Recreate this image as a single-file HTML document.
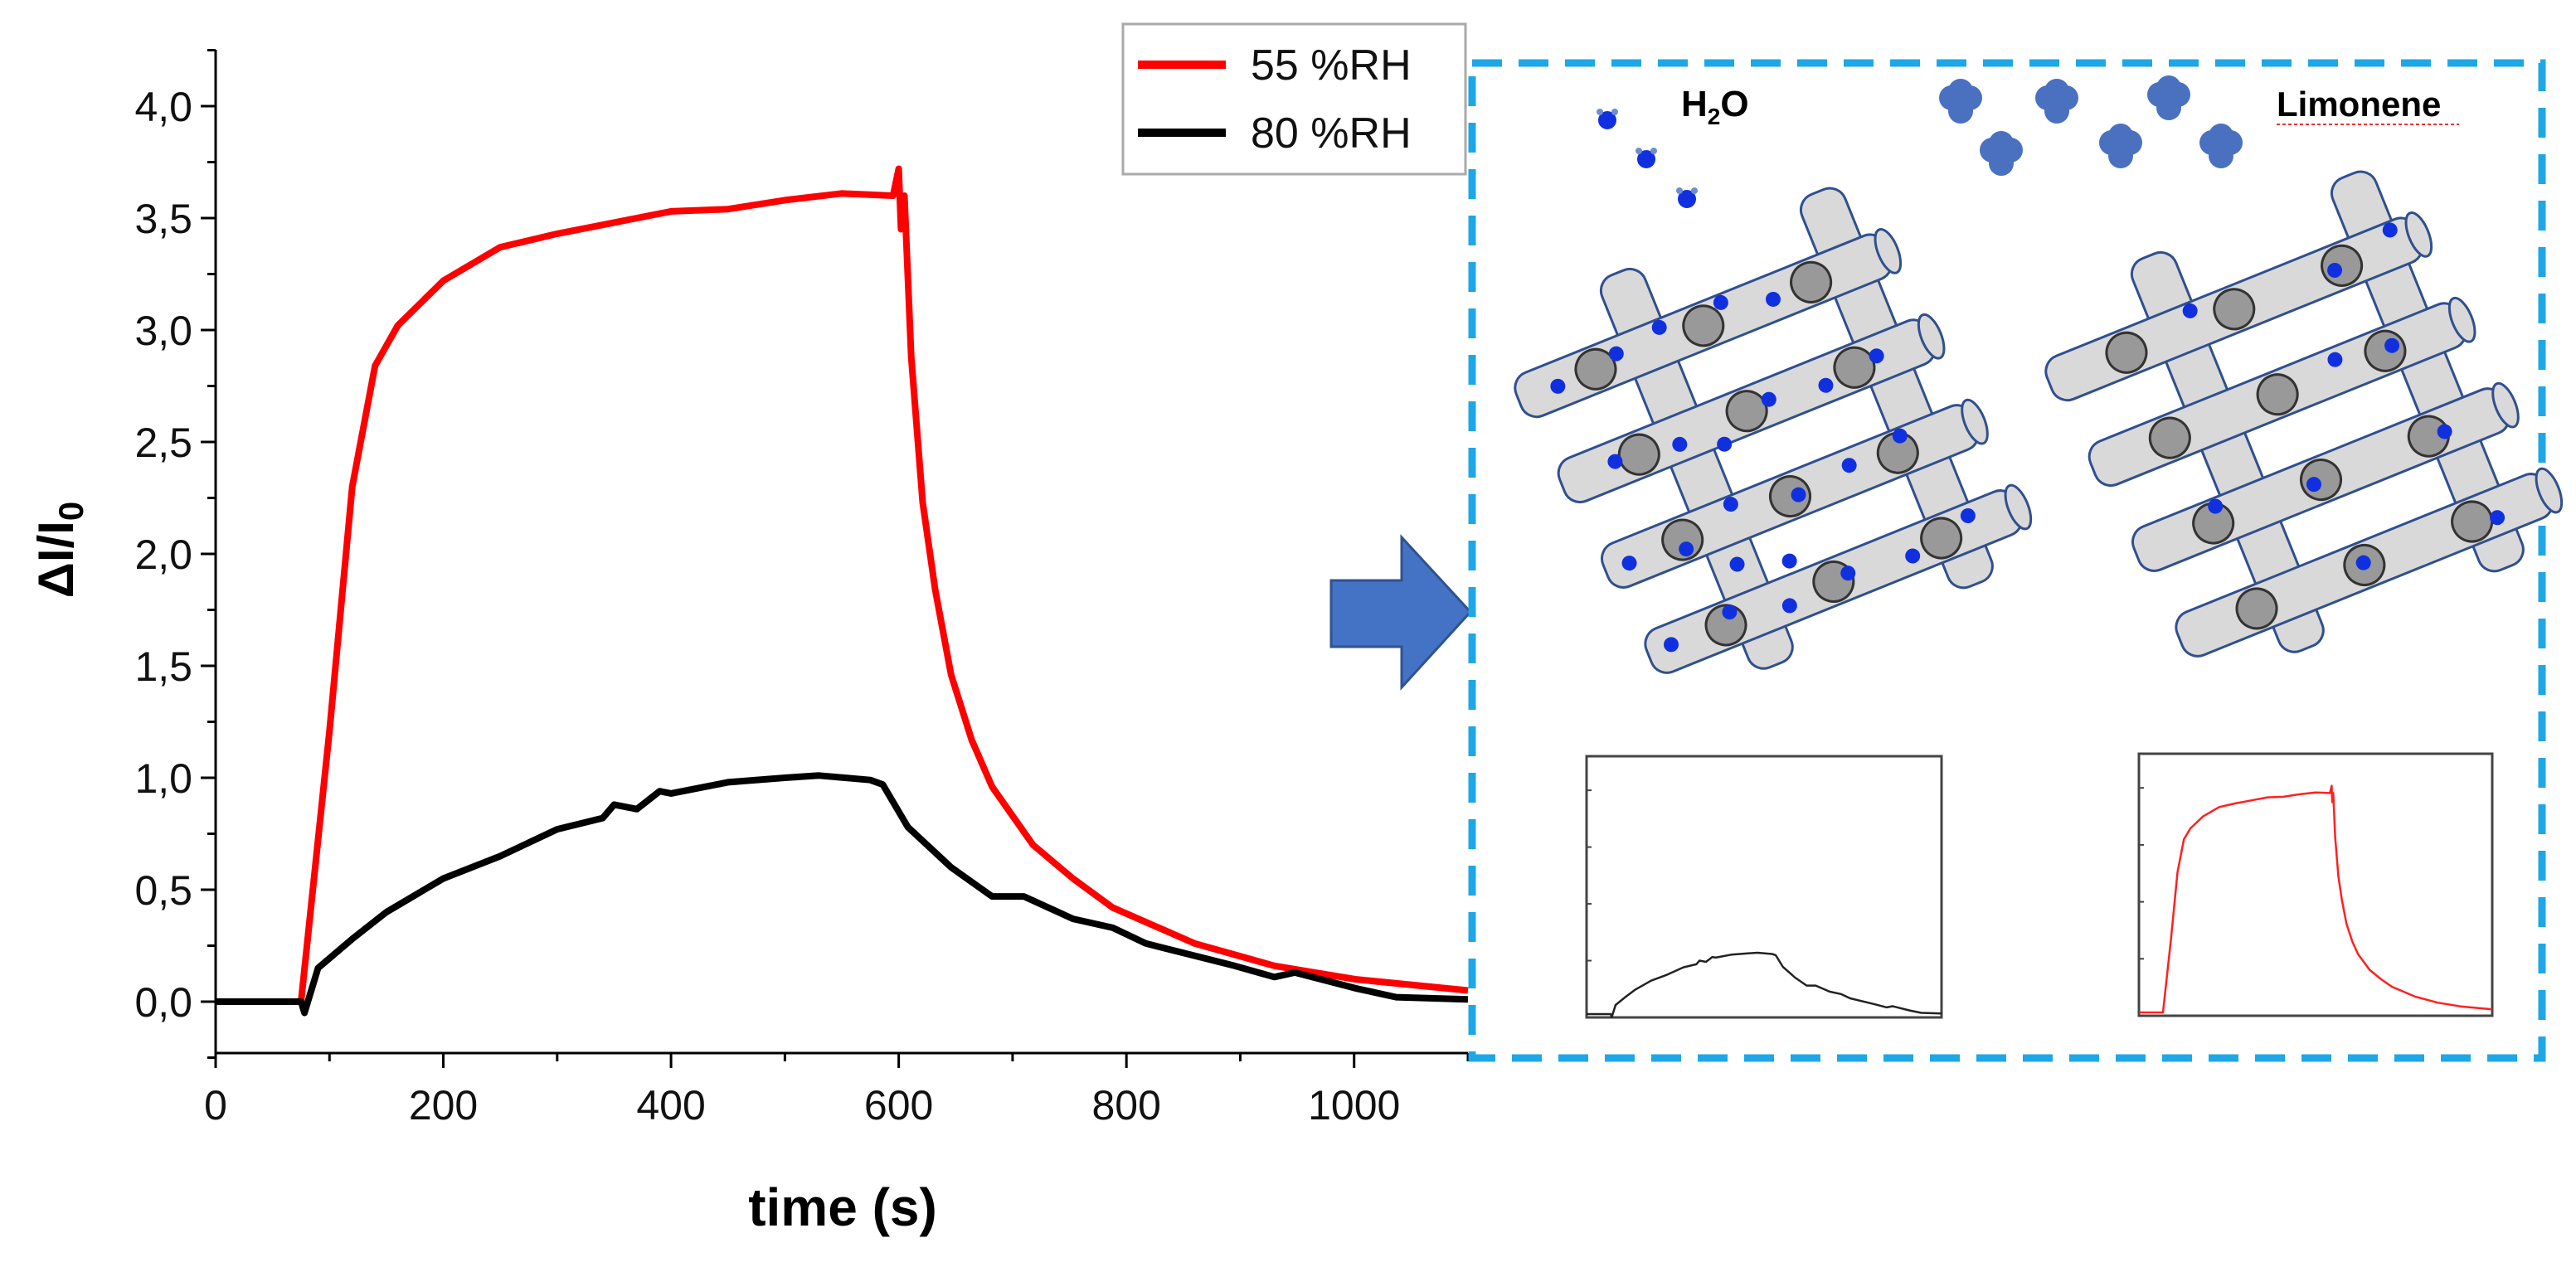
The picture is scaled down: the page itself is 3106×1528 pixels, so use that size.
<!DOCTYPE html>
<html><head><meta charset="utf-8"><style>
html,body{margin:0;padding:0;background:#fff;}
svg{display:block;font-family:"Liberation Sans",sans-serif;}
</style></head><body>
<svg id="fig" width="3106" height="1528" viewBox="0 0 3106 1528">
<g id="main"></g>
<g id="schema"></g>
</svg>
<script>
const timeRed=[0,40,75,100,120,140,160,200,250,300,350,400,450,500,550,595,600,602,605,611,621,632,646,664,682,718,753,788,860,930,1001,1100];
const valRed=[0,0,0,1.21,2.3,2.84,3.02,3.22,3.37,3.43,3.48,3.53,3.54,3.58,3.61,3.6,3.72,3.45,3.6,2.88,2.23,1.84,1.46,1.17,0.96,0.70,0.55,0.42,0.26,0.16,0.10,0.05];
const timeBlack=[0,40,75,78,90,120,150,200,250,300,340,350,370,390,400,450,500,530,575,586,608,646,682,710,753,788,817,895,930,948,1001,1037,1100];
const valBlack=[0,0,0,-0.05,0.15,0.28,0.4,0.55,0.65,0.77,0.82,0.88,0.86,0.94,0.93,0.98,1.0,1.01,0.99,0.97,0.78,0.60,0.47,0.47,0.37,0.33,0.26,0.16,0.11,0.13,0.06,0.02,0.01];
const xTicks=[0,200,400,600,800,1000];
const yTicks=[0,0.5,1,1.5,2,2.5,3,3.5,4];
const yTickLabels=["0,0","0,5","1,0","1,5","2,0","2,5","3,0","3,5","4,0"];
const legendLabels=["55 %RH","80 %RH"];

const NS="http://www.w3.org/2000/svg";
function mk(tag,attrs,parent){const e=document.createElementNS(NS,tag);for(const k in attrs)e.setAttribute(k,attrs[k]);parent.appendChild(e);return e;}
const main=document.getElementById('main');
const X0=260,X1=1770,Y0=1208,Y4=128;
const sx=t=>X0+(X1-X0)*t/1100;
const sy=v=>Y0-(Y0-Y4)*v/4;
const AXT=60,AXB=1270;
let a=mk('line',{x1:X0,y1:AXT,x2:X0,y2:AXB,stroke:'#000','stroke-width':3},main);

a=mk('line',{x1:X0,y1:AXB,x2:X1,y2:AXB,stroke:'#000','stroke-width':3},main);

for(let v=-0.25;v<=4.26;v+=0.25){const major=Math.abs(v*2-Math.round(v*2))<1e-6&&v>=0;
 mk('line',{x1:X0-(major?18:10),y1:sy(v),x2:X0,y2:sy(v),stroke:'#000','stroke-width':3},main);}
for(let t=100;t<=1100;t+=200){mk('line',{x1:sx(t),y1:AXB,x2:sx(t),y2:AXB+10,stroke:'#000','stroke-width':3},main);}
xTicks.forEach(t=>{mk('line',{x1:sx(t),y1:AXB,x2:sx(t),y2:AXB+18,stroke:'#000','stroke-width':3},main);
 const tx=mk('text',{x:sx(t),y:AXB+80,'font-size':50,'text-anchor':'middle',fill:'#111'},main);tx.textContent=t;
 });
yTicks.forEach((v,i)=>{const tx=mk('text',{x:X0-28,y:sy(v)+18,'font-size':50,'text-anchor':'end',fill:'#111'},main);tx.textContent=yTickLabels[i];
 });
let tt=mk('text',{x:1016,y:1478,'font-size':64,'font-weight':'bold','text-anchor':'middle'},main);tt.textContent='time (s)';

let yt=mk('text',{x:0,y:0,'font-size':60,'font-weight':'bold','text-anchor':'middle',transform:'translate(88,663) rotate(-90)'},main);
yt.innerHTML='ΔI/I<tspan font-size="42" dy="12">0</tspan>';

function line(ts,vs,fx,fy,col,w,parent,name){const d=ts.map((t,i)=>(i?'L':'M')+fx(t).toFixed(1)+','+fy(vs[i]).toFixed(1)).join('');
 const p=mk('path',{d:d,fill:'none',stroke:col,'stroke-width':w,'stroke-linejoin':'round'},parent);
 return p;}
line(timeRed,valRed,sx,sy,'#ff0000',8,main,'series-55rh');
line(timeBlack,valBlack,sx,sy,'#000',8,main,'series-80rh');
const lg=mk('g',{},main);
mk('rect',{x:1354,y:29,width:413,height:181,fill:'#fff',stroke:'#aaa','stroke-width':3},lg);
[['#ff0000',78],['#000',160]].forEach((c,i)=>{mk('line',{x1:1372,y1:c[1],x2:1478,y2:c[1],stroke:c[0],'stroke-width':10},lg);
 const t=mk('text',{x:1508,y:c[1]+18,'font-size':52,fill:'#111'},lg);t.textContent=legendLabels[i];
 });
let ar=mk('polygon',{points:'1605,700 1690,700 1690,648 1773,738 1690,829 1690,780 1605,780',fill:'#4472c4',stroke:'#2f528f','stroke-width':3},main);


const sc=document.getElementById('schema');
let bx=mk('rect',{x:1775,y:76,width:1290,height:1200,fill:'none',stroke:'#1ea7e6','stroke-width':9,'stroke-dasharray':'36 20'},sc);

let h=mk('text',{x:2027,y:140,'font-size':44,'font-weight':'bold'},sc);h.innerHTML='H<tspan font-size="28" dy="10">2</tspan><tspan dy="-10">O</tspan>';

let l=mk('text',{x:2745,y:140,'font-size':42,'font-weight':'bold'},sc);l.textContent='Limonene';

mk('line',{x1:2745,y1:150,x2:2965,y2:150,stroke:'#e33','stroke-width':2,'stroke-dasharray':'4 3'},sc);
[[1938,145],[1985,192],[2034,240]].forEach(p=>{const g=mk('g',{},sc);
 mk('circle',{cx:p[0],cy:p[1],r:11,fill:'#1030e0'},g);mk('circle',{cx:p[0]-9,cy:p[1]-10,r:4,fill:'#6b8fd0'},g);mk('circle',{cx:p[0]+9,cy:p[1]-10,r:4,fill:'#6b8fd0'},g);});
[[2364,124],[2480,124],[2615,120],[2413,187],[2557,178],[2678,178]].forEach(p=>{const g=mk('g',{},sc);
 [[-11,-6],[11,-6],[0,10],[0,-14]].forEach(o=>mk('circle',{cx:p[0]+o[0],cy:p[1]+o[1],r:15,fill:'#4a70c0'},g));});
function lattice(cx,cy,dots,name){const g=mk('g',{transform:`translate(${cx},${cy}) rotate(-22)`},sc);
 
 const st={fill:'#d9d9d9',stroke:'#2f4f8f','stroke-width':3};
 [-110,150].forEach(x=>mk('rect',Object.assign({x:x,y:-250,width:56,height:510,rx:20},st),g));
 [-180,-65,50,165].forEach((y,i)=>{mk('rect',Object.assign({x:-250+i*10,y:y,width:480,height:56,rx:20},st),g);
  mk('ellipse',{cx:230+i*10,cy:y+28,rx:12,ry:28,fill:'#d9d9d9',stroke:'#2f4f8f','stroke-width':3},g);
  [-150,-10,130].forEach(x=>{mk('circle',{cx:x+i*10,cy:y+28,r:24,fill:'#999',stroke:'#333','stroke-width':3},g);});});
 dots.forEach(d=>mk('circle',{cx:d[0],cy:d[1],r:9,fill:'#1030e0'},g));}
lattice(2120,530,[[-200,-150],[-120,-160],[-60,-170],[20,-170],[80,-150],[-170,-40],[-90,-30],[-40,-10],[30,-40],[100,-30],[170,-40],[-200,80],[-130,90],[-60,60],[20,80],[90,70],[160,60],[-190,190],[-110,180],[-40,200],[40,190],[120,200],[200,180],[-80,130],[-20,150]],'lattice-water');
lattice(2760,510,[[-60,-170],[120,-150],[200,-170],[80,-50],[150,-40],[-120,60],[0,80],[170,80],[20,190],[190,200]],'lattice-limonene');
const iL={x0:1913,x1:2341,y0:1227,y1:912},iR={x0:2579,x1:3005,y0:1225,y1:909};
[[iL,timeBlack,valBlack,'#222','inset-water'],[iR,timeRed,valRed,'#ff2020','inset-limonene']].forEach(c=>{const b=c[0];
 const g=mk('g',{},sc);
 mk('rect',{x:b.x0,y:b.y1,width:b.x1-b.x0,height:b.y0-b.y1,fill:'#fff',stroke:'#444','stroke-width':3},g);
 for(let k=1;k<5;k++)mk('line',{x1:b.x0,x2:b.x0+6,y1:b.y0-k*(b.y0-b.y1)/4.6,y2:b.y0-k*(b.y0-b.y1)/4.6,stroke:'#444','stroke-width':2},g);
 line(c[1],c[2],t=>b.x0+(b.x1-b.x0)*t/1100,v=>b.y0-4-(b.y0-b.y1)*v/4.3,c[3],2.5,g,c[4]+'-line');});
</script>
</body></html>
